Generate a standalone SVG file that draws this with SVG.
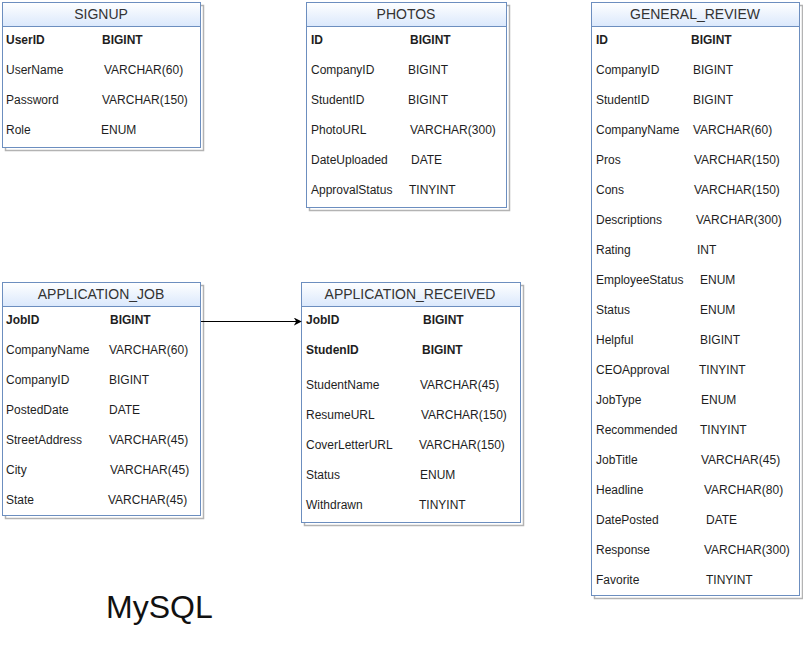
<svg xmlns="http://www.w3.org/2000/svg" width="803" height="664" viewBox="0 0 803 664">
  <style>
    text { font-family: "Liberation Sans", Arial, Helvetica, sans-serif; fill: #1e1e1e; }
    .title { font-size: 14px; text-anchor: middle; fill: #333333; }
    .row { font-size: 12px; }
    .b { font-weight: bold; }
    .shadow { fill: none; stroke: #b3b3b3; stroke-width: 1.5; }
    .body { fill: #ffffff; stroke: #6c8ebf; stroke-width: 1; }
    .head { fill: url(#hdr); stroke: #6c8ebf; stroke-width: 1; }
    .conn { stroke: #000000; stroke-width: 1; fill: none; }
    .big { font-size: 32px; fill: #111111; }
  </style>
  <defs>
    <linearGradient id="hdr" x1="0" y1="0" x2="0" y2="1">
      <stop offset="0" stop-color="#ffffff"/>
      <stop offset="1" stop-color="#dae8fc"/>
    </linearGradient>
    <marker id="arrow" viewBox="0 0 10 10" refX="9" refY="5" markerWidth="8" markerHeight="8" markerUnits="userSpaceOnUse" orient="auto">
      <path d="M0,0 L10,5 L0,10 L3,5 Z" fill="#000000"/>
    </marker>
  </defs>
  <rect width="803" height="664" fill="#ffffff"/>

  <!-- SIGNUP table -->
  <g id="signup">
    <rect class="shadow" x="5.5" y="5.5" width="198" height="145"/>
    <rect class="body" x="2.5" y="2.5" width="198" height="145"/>
    <rect class="head" x="2.5" y="2.5" width="198" height="24"/>
    <text class="title" x="101" y="19">SIGNUP</text>
    <text class="row b" x="6" y="44">UserID</text><text class="row b" x="102" y="44">BIGINT</text>
    <text class="row" x="6" y="74">UserName</text><text class="row" x="104" y="74">VARCHAR(60)</text>
    <text class="row" x="6" y="104">Password</text><text class="row" x="102" y="104">VARCHAR(150)</text>
    <text class="row" x="6" y="134">Role</text><text class="row" x="101" y="134">ENUM</text>
  </g>

  <!-- PHOTOS table -->
  <g id="photos">
    <rect class="shadow" x="309.5" y="5.5" width="200" height="205"/>
    <rect class="body" x="306.5" y="2.5" width="200" height="205"/>
    <rect class="head" x="306.5" y="2.5" width="200" height="24"/>
    <text class="title" x="406" y="19">PHOTOS</text>
    <text class="row b" x="311" y="44">ID</text><text class="row b" x="410" y="44">BIGINT</text>
    <text class="row" x="311" y="74">CompanyID</text><text class="row" x="408" y="74">BIGINT</text>
    <text class="row" x="311" y="104">StudentID</text><text class="row" x="408" y="104">BIGINT</text>
    <text class="row" x="311" y="134">PhotoURL</text><text class="row" x="410" y="134">VARCHAR(300)</text>
    <text class="row" x="311" y="164">DateUploaded</text><text class="row" x="411" y="164">DATE</text>
    <text class="row" x="311" y="194">ApprovalStatus</text><text class="row" x="409" y="194">TINYINT</text>
  </g>

  <!-- GENERAL_REVIEW table -->
  <g id="general_review">
    <rect class="shadow" x="594.5" y="5.5" width="208" height="593"/>
    <rect class="body" x="591.5" y="2.5" width="208" height="593"/>
    <rect class="head" x="591.5" y="2.5" width="208" height="24"/>
    <text class="title" x="695" y="19">GENERAL_REVIEW</text>
    <text class="row b" x="596" y="44">ID</text><text class="row b" x="691" y="44">BIGINT</text>
    <text class="row" x="596" y="74">CompanyID</text><text class="row" x="693" y="74">BIGINT</text>
    <text class="row" x="596" y="104">StudentID</text><text class="row" x="693" y="104">BIGINT</text>
    <text class="row" x="596" y="134">CompanyName</text><text class="row" x="693" y="134">VARCHAR(60)</text>
    <text class="row" x="596" y="164">Pros</text><text class="row" x="694" y="164">VARCHAR(150)</text>
    <text class="row" x="596" y="194">Cons</text><text class="row" x="694" y="194">VARCHAR(150)</text>
    <text class="row" x="596" y="224">Descriptions</text><text class="row" x="696" y="224">VARCHAR(300)</text>
    <text class="row" x="596" y="254">Rating</text><text class="row" x="697" y="254">INT</text>
    <text class="row" x="596" y="284">EmployeeStatus</text><text class="row" x="700" y="284">ENUM</text>
    <text class="row" x="596" y="314">Status</text><text class="row" x="700" y="314">ENUM</text>
    <text class="row" x="596" y="344">Helpful</text><text class="row" x="700" y="344">BIGINT</text>
    <text class="row" x="596" y="374">CEOApproval</text><text class="row" x="699" y="374">TINYINT</text>
    <text class="row" x="596" y="404">JobType</text><text class="row" x="701" y="404">ENUM</text>
    <text class="row" x="596" y="434">Recommended</text><text class="row" x="700" y="434">TINYINT</text>
    <text class="row" x="596" y="464">JobTitle</text><text class="row" x="701" y="464">VARCHAR(45)</text>
    <text class="row" x="596" y="494">Headline</text><text class="row" x="704" y="494">VARCHAR(80)</text>
    <text class="row" x="596" y="524">DatePosted</text><text class="row" x="706" y="524">DATE</text>
    <text class="row" x="596" y="554">Response</text><text class="row" x="704" y="554">VARCHAR(300)</text>
    <text class="row" x="596" y="584">Favorite</text><text class="row" x="706" y="584">TINYINT</text>
  </g>

  <!-- APPLICATION_JOB table -->
  <g id="application_job">
    <rect class="shadow" x="5.5" y="285.5" width="198" height="233"/>
    <rect class="body" x="2.5" y="282.5" width="198" height="233"/>
    <rect class="head" x="2.5" y="282.5" width="198" height="24"/>
    <text class="title" x="101" y="299">APPLICATION_JOB</text>
    <text class="row b" x="6" y="324">JobID</text><text class="row b" x="110" y="324">BIGINT</text>
    <text class="row" x="6" y="354">CompanyName</text><text class="row" x="109" y="354">VARCHAR(60)</text>
    <text class="row" x="6" y="384">CompanyID</text><text class="row" x="109" y="384">BIGINT</text>
    <text class="row" x="6" y="414">PostedDate</text><text class="row" x="109" y="414">DATE</text>
    <text class="row" x="6" y="444">StreetAddress</text><text class="row" x="109" y="444">VARCHAR(45)</text>
    <text class="row" x="6" y="474">City</text><text class="row" x="110" y="474">VARCHAR(45)</text>
    <text class="row" x="6" y="504">State</text><text class="row" x="108" y="504">VARCHAR(45)</text>
  </g>

  <!-- APPLICATION_RECEIVED table -->
  <g id="application_received">
    <rect class="shadow" x="304.5" y="285.5" width="219" height="240"/>
    <rect class="body" x="301.5" y="282.5" width="219" height="240"/>
    <rect class="head" x="301.5" y="282.5" width="219" height="24"/>
    <text class="title" x="410" y="299">APPLICATION_RECEIVED</text>
    <text class="row b" x="306" y="324">JobID</text><text class="row b" x="423" y="324">BIGINT</text>
    <text class="row b" x="306" y="354">StudenID</text><text class="row b" x="422" y="354">BIGINT</text>
    <text class="row" x="306" y="389">StudentName</text><text class="row" x="420" y="389">VARCHAR(45)</text>
    <text class="row" x="306" y="419">ResumeURL</text><text class="row" x="421" y="419">VARCHAR(150)</text>
    <text class="row" x="306" y="449">CoverLetterURL</text><text class="row" x="419" y="449">VARCHAR(150)</text>
    <text class="row" x="306" y="479">Status</text><text class="row" x="420" y="479">ENUM</text>
    <text class="row" x="306" y="509">Withdrawn</text><text class="row" x="419" y="509">TINYINT</text>
  </g>

  <!-- connectors -->
  <g id="connectors">
    <line class="conn" x1="201" y1="321.5" x2="301" y2="321.5" marker-end="url(#arrow)"/>
  </g>

  <text class="big" x="106" y="618">MySQL</text>
</svg>
